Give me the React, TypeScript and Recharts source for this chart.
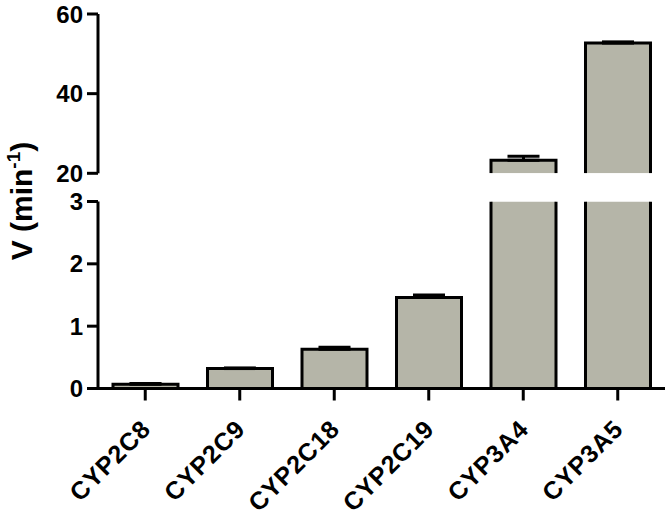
import { BarChart, Bar, XAxis, YAxis, ErrorBar } from 'recharts'

const enzymes = ['CYP2C8', 'CYP2C9', 'CYP2C18', 'CYP2C19', 'CYP3A4', 'CYP3A5']
const velocity = [0.07, 0.32, 0.63, 1.46, 23.3, 52.7]
const sem = [0.01, 0.01, 0.03, 0.04, 1.0, 0.3]

const lowTicks = [0, 1, 2, 3]
const highTicks = [20, 40, 60]
const LOW_MAX = 3
const HIGH_MIN = 20

const FONT = '"Liberation Sans", Arial, sans-serif'
const FILL = '#b5b5a8'
const INK = '#000'

// lower segment: values above 3 are cut at the break
const lowData = enzymes.map((name, i) => ({
  name,
  v: Math.min(velocity[i], LOW_MAX),
  err: velocity[i] > LOW_MAX ? null : [0, sem[i]],
  cut: velocity[i] > LOW_MAX,
}))

// upper segment: only the bars that reach past 20
const highData = enzymes.map((name, i) => ({
  name,
  v: velocity[i] > HIGH_MIN ? velocity[i] : null,
  err: velocity[i] > HIGH_MIN ? [0, sem[i]] : null,
}))

function LowBar(props: any) {
  const { x, y, width: w, height: h, payload } = props
  if (!w || !h) return null
  const d = payload && payload.cut
    ? `M${x},${y} L${x},${y + h} L${x + w},${y + h} L${x + w},${y}`
    : `M${x},${y + h} L${x},${y} L${x + w},${y} L${x + w},${y + h} Z`
  return (
    <g>
      <rect x={x} y={y} width={w} height={h} fill={FILL} />
      <path d={d} fill="none" stroke={INK} strokeWidth={3} />
    </g>
  )
}

function HighBar(props: any) {
  const { x, y, width: w, height: h } = props
  if (!w || !h) return null
  return (
    <g>
      <rect x={x} y={y} width={w} height={h} fill={FILL} />
      <path d={`M${x},${y + h} L${x},${y} L${x + w},${y} L${x + w},${y + h}`} fill="none" stroke={INK} strokeWidth={3} />
    </g>
  )
}

// diagonal category label, its end pinned just below-right of the tick mark
function CatTick({ x, y, payload }: any) {
  const ax = Number(x) + 7
  const ay = Number(y) + 28
  return (
    <g transform={`translate(${ax},${ay}) rotate(-45)`}>
      <text x={0} y={0} textAnchor="end" fontSize={25} fontWeight={700} fontFamily={FONT}
        letterSpacing={0.8} fill={INK}>
        {payload.value}
      </text>
    </g>
  )
}

const yTick = { fontSize: 24, fontWeight: 700, fontFamily: FONT, fill: INK }
const axisLine = { stroke: INK, strokeWidth: 3 }

export default function App() {
  return (
    <div style={{ position: 'absolute', left: 0, top: 0, width: 668, height: 519, background: '#fff' }}>
      <div style={{ position: 'absolute', left: 0, top: 0 }}>
        <BarChart width={668} height={195} data={highData} margin={{ top: 14, right: 3, bottom: 21.7, left: 0 }} barSize={65}>
          <XAxis dataKey="name" hide />
          <YAxis domain={[20, 60]} ticks={highTicks} interval={0} width={98} tick={yTick} tickSize={11} tickMargin={4}
            axisLine={axisLine} tickLine={axisLine} allowDataOverflow />
          <Bar dataKey="v" shape={<HighBar />} isAnimationActive={false}>
            <ErrorBar dataKey="err" width={16} stroke={INK} strokeWidth={3} direction="y" />
          </Bar>
        </BarChart>
      </div>
      <div style={{ position: 'absolute', left: 0, top: 180 }}>
        <BarChart width={668} height={339} data={lowData} margin={{ top: 21.5, right: 3, bottom: 10.5, left: 0 }} barSize={65}>
          <XAxis dataKey="name" interval={0} height={120} tickSize={12} tick={<CatTick />}
            axisLine={axisLine} tickLine={axisLine} />
          <YAxis domain={[0, 3]} ticks={lowTicks} interval={0} width={98} tick={yTick} tickSize={11} tickMargin={4}
            axisLine={axisLine} tickLine={axisLine} allowDataOverflow />
          <Bar dataKey="v" shape={<LowBar />} isAnimationActive={false}>
            <ErrorBar dataKey="err" width={16} stroke={INK} strokeWidth={3} direction="y" />
          </Bar>
        </BarChart>
      </div>
      <svg width={60} height={519} style={{ position: 'absolute', left: 0, top: 0 }}>
        <text transform="translate(32,201) rotate(-90)" textAnchor="middle" fontSize={30}
          fontWeight={700} fontFamily={FONT} fill={INK}>
          V (min<tspan dy={-12} fontSize={19}>-1</tspan><tspan dy={12}>)</tspan>
        </text>
      </svg>
    </div>
  )
}
